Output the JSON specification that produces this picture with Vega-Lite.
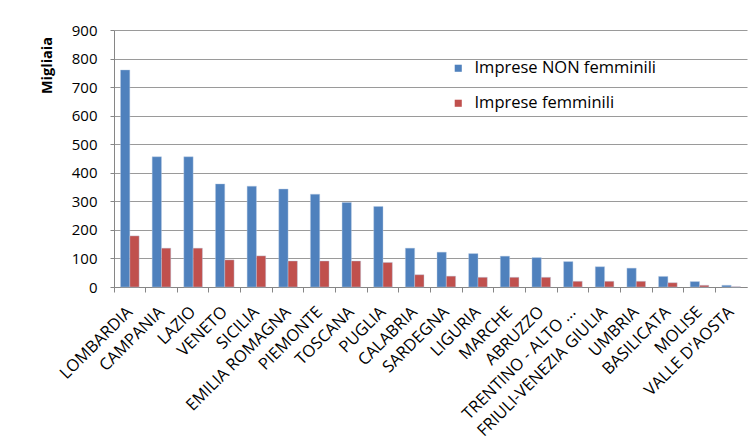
{
  "$schema": "https://vega.github.io/schema/vega-lite/v6.json",
  "autosize": "none",
  "padding": {"left": 114, "top": 30, "right": 5, "bottom": 161},
  "width": 633,
  "height": 257,
  "background": "white",
  "data": {
    "values": [
      {"regione": "LOMBARDIA", "tipo": "Imprese NON femminili", "migliaia": 760},
      {"regione": "LOMBARDIA", "tipo": "Imprese femminili", "migliaia": 179},
      {"regione": "CAMPANIA", "tipo": "Imprese NON femminili", "migliaia": 456},
      {"regione": "CAMPANIA", "tipo": "Imprese femminili", "migliaia": 136},
      {"regione": "LAZIO", "tipo": "Imprese NON femminili", "migliaia": 456},
      {"regione": "LAZIO", "tipo": "Imprese femminili", "migliaia": 136},
      {"regione": "VENETO", "tipo": "Imprese NON femminili", "migliaia": 361},
      {"regione": "VENETO", "tipo": "Imprese femminili", "migliaia": 95},
      {"regione": "SICILIA", "tipo": "Imprese NON femminili", "migliaia": 353},
      {"regione": "SICILIA", "tipo": "Imprese femminili", "migliaia": 109},
      {"regione": "EMILIA ROMAGNA", "tipo": "Imprese NON femminili", "migliaia": 343},
      {"regione": "EMILIA ROMAGNA", "tipo": "Imprese femminili", "migliaia": 91},
      {"regione": "PIEMONTE", "tipo": "Imprese NON femminili", "migliaia": 325},
      {"regione": "PIEMONTE", "tipo": "Imprese femminili", "migliaia": 91},
      {"regione": "TOSCANA", "tipo": "Imprese NON femminili", "migliaia": 296},
      {"regione": "TOSCANA", "tipo": "Imprese femminili", "migliaia": 91},
      {"regione": "PUGLIA", "tipo": "Imprese NON femminili", "migliaia": 282},
      {"regione": "PUGLIA", "tipo": "Imprese femminili", "migliaia": 86},
      {"regione": "CALABRIA", "tipo": "Imprese NON femminili", "migliaia": 136},
      {"regione": "CALABRIA", "tipo": "Imprese femminili", "migliaia": 43},
      {"regione": "SARDEGNA", "tipo": "Imprese NON femminili", "migliaia": 122},
      {"regione": "SARDEGNA", "tipo": "Imprese femminili", "migliaia": 38},
      {"regione": "LIGURIA", "tipo": "Imprese NON femminili", "migliaia": 117},
      {"regione": "LIGURIA", "tipo": "Imprese femminili", "migliaia": 34},
      {"regione": "MARCHE", "tipo": "Imprese NON femminili", "migliaia": 108},
      {"regione": "MARCHE", "tipo": "Imprese femminili", "migliaia": 34},
      {"regione": "ABRUZZO", "tipo": "Imprese NON femminili", "migliaia": 103},
      {"regione": "ABRUZZO", "tipo": "Imprese femminili", "migliaia": 34},
      {"regione": "TRENTINO - ALTO ...", "tipo": "Imprese NON femminili", "migliaia": 89},
      {"regione": "TRENTINO - ALTO ...", "tipo": "Imprese femminili", "migliaia": 20},
      {"regione": "FRIULI-VENEZIA  GIULIA", "tipo": "Imprese NON femminili", "migliaia": 71},
      {"regione": "FRIULI-VENEZIA  GIULIA", "tipo": "Imprese femminili", "migliaia": 20},
      {"regione": "UMBRIA", "tipo": "Imprese NON femminili", "migliaia": 66},
      {"regione": "UMBRIA", "tipo": "Imprese femminili", "migliaia": 20},
      {"regione": "BASILICATA", "tipo": "Imprese NON femminili", "migliaia": 37},
      {"regione": "BASILICATA", "tipo": "Imprese femminili", "migliaia": 15},
      {"regione": "MOLISE", "tipo": "Imprese NON femminili", "migliaia": 19},
      {"regione": "MOLISE", "tipo": "Imprese femminili", "migliaia": 6},
      {"regione": "VALLE D'AOSTA", "tipo": "Imprese NON femminili", "migliaia": 6},
      {"regione": "VALLE D'AOSTA", "tipo": "Imprese femminili", "migliaia": 1}
    ]
  },
  "mark": {"type": "bar", "stroke": "#b9cde5", "strokeWidth": 0.6, "strokeOpacity": 0.7},
  "encoding": {
    "x": {
      "field": "regione",
      "type": "nominal",
      "sort": null,
      "title": null,
      "scale": {"paddingInner": 0, "paddingOuter": 0},
      "axis": {
        "bandPosition": 0,
        "labelOffset": 0,
        "labelAngle": -45,
        "labelAlign": "right",
        "labelBaseline": "middle",
        "labelPadding": 17,
        "tickSize": 5,
        "labelFontSize": 16.5,
        "labelColor": "#000000",
        "domainColor": "#868686",
        "tickColor": "#868686",
        "labelLimit": 300,
        "grid": false
      }
    },
    "xOffset": {
      "field": "tipo",
      "type": "nominal",
      "sort": ["Imprese NON femminili", "Imprese femminili"],
      "scale": {"paddingInner": 0, "paddingOuter": 0.7}
    },
    "y": {
      "field": "migliaia",
      "type": "quantitative",
      "title": "Migliaia",
      "scale": {"domain": [0, 900], "nice": false},
      "axis": {
        "values": [0, 100, 200, 300, 400, 500, 600, 700, 800, 900],
        "tickSize": 4,
        "labelPadding": 13,
        "labelFontSize": 15,
        "labelColor": "#000000",
        "domainColor": "#868686",
        "tickColor": "#868686",
        "gridColor": "#9a9a9a",
        "gridWidth": 1.2,
        "titleFontSize": 14.5,
        "titleFontWeight": "bold",
        "titleColor": "#000000",
        "titleX": -67,
        "titleY": 35,
        "titleBaseline": "middle",
        "titleAlign": "center"
      }
    },
    "color": {
      "field": "tipo",
      "type": "nominal",
      "title": null,
      "sort": ["Imprese NON femminili", "Imprese femminili"],
      "scale": {
        "domain": ["Imprese NON femminili", "Imprese femminili"],
        "range": ["#4f81bd", "#c0504d"]
      },
      "legend": {
        "orient": "none",
        "legendX": 336,
        "legendY": 30,
        "symbolType": "square",
        "symbolSize": 50,
        "symbolStrokeWidth": 0,
        "labelFontSize": 16.5,
        "labelColor": "#000000",
        "labelOffset": 8,
        "rowPadding": 18,
        "labelLimit": 300
      }
    }
  },
  "config": {
    "font": "Open Sans",
    "view": {"stroke": null},
    "axis": {"labelFont": "Open Sans", "titleFont": "Open Sans"},
    "legend": {"labelFont": "Open Sans"}
  }
}
